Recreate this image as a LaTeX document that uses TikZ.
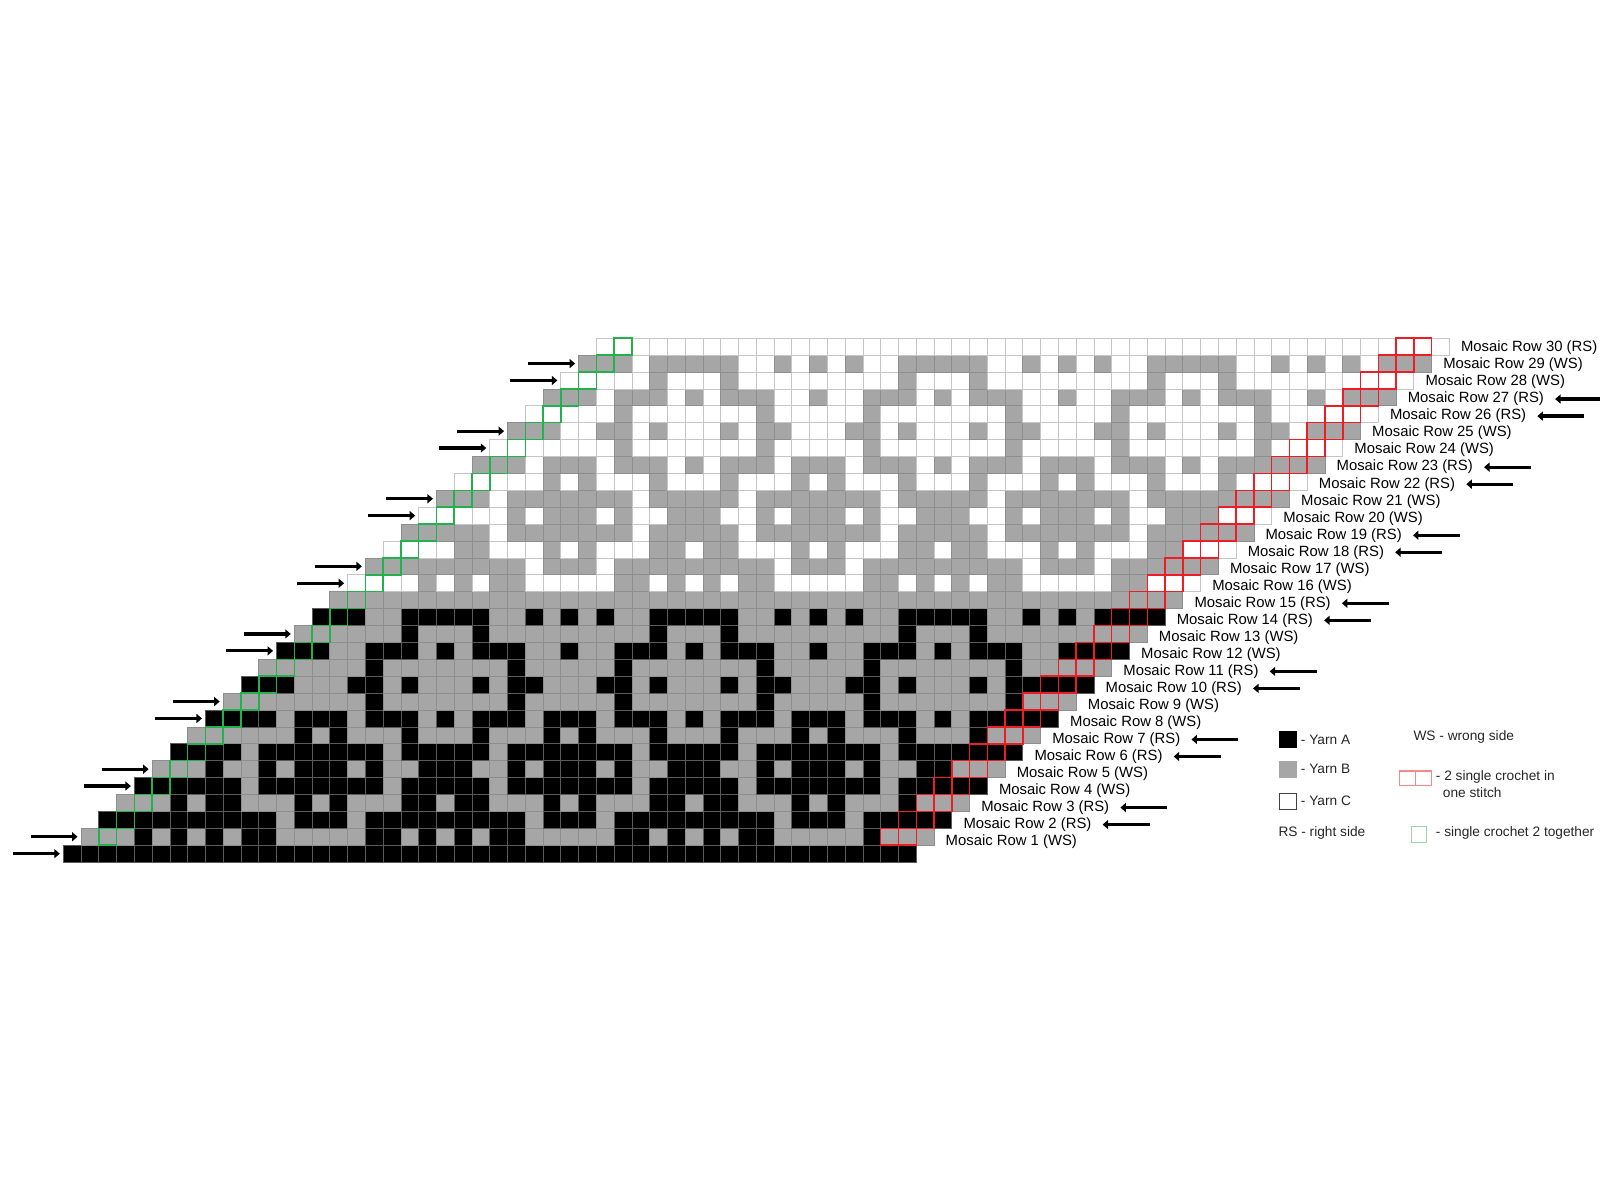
\documentclass[tikz,border=0pt]{standalone}
\usepackage{fontspec}
\setmainfont{Liberation Sans}
\usetikzlibrary{arrows.meta}
\definecolor{cf0}{HTML}{000000}
\definecolor{cf1}{HTML}{A6A6A6}
\definecolor{cf2}{HTML}{FFFFFF}
\definecolor{cl0}{HTML}{5A5A5A}
\definecolor{cl1}{HTML}{8E8E8E}
\definecolor{cl2}{HTML}{C6C6C6}
\definecolor{redline}{HTML}{EE1C24}
\definecolor{greenline}{HTML}{22B14C}
\definecolor{legred}{HTML}{F28A8A}
\definecolor{leggreen}{HTML}{9AD6A8}
\begin{document}
\begin{tikzpicture}[x=1pt,y=-1pt,
  lbl/.style={anchor=west, inner sep=0pt, font=\fontsize{14.85}{17}\selectfont},
  leg/.style={anchor=west, inner sep=0pt, text=black!85, font=\fontsize{13.7}{16}\selectfont},
  arr/.style={line width=3.2pt, -{Triangle[length=5.5pt,width=9pt]}},
  swatch/.style={minimum width=16.7pt, minimum height=16pt, inner sep=0pt, line width=0.9pt}]
\useasboundingbox (0,0) rectangle (1600,1200);
\def\cw{17.77}\def\ch{16.9}\def\gx{63.3}\def\gy{845.2}
% ---- chart cells ----
\foreach \k in {0,...,30} {
  \pgfmathtruncatemacro\m{\k<=15 ? \k : \k-15}
  \pgfmathtruncatemacro\msk{{0,88,4,98,16,203,16,34,68,8,211,8,70,32,26,0}[\m]}
  \pgfmathtruncatemacro\odd{mod(\k,2)}
  \pgfmathtruncatemacro\own{\odd==1 ? 1 : (\k<=15 ? 0 : 2)}
  \pgfmathtruncatemacro\oth{\odd==1 ? (\k<=15 ? 0 : 2) : 1}
  \pgfmathsetmacro\yt{\gy-\ch*\k}
  \foreach \i in {0,...,47} {
    \pgfmathtruncatemacro\c{\k+\i}
    \pgfmathtruncatemacro\r{mod(\c,14)}
    \pgfmathtruncatemacro\j{\r<=7 ? \r : 14-\r}
    \pgfmathtruncatemacro\b{(\i>2 && \i<45) ? mod(floor(\msk/pow(2,\j)),2) : 0}
    \pgfmathtruncatemacro\col{\b==1 ? \oth : \own}
    \pgfmathsetmacro\xl{\gx+\cw*\c}
    \path[fill=cf\col, draw=cl\col, line width=0.8pt] (\xl,\yt) rectangle ++(\cw,\ch);
  }
}
% ---- green and red outlines ----
\foreach \k in {1,...,30} {
  \pgfmathsetmacro\yt{\gy-\ch*\k}
  \pgfmathsetmacro\xg{\gx+\cw*(\k+1)}
  \pgfmathsetmacro\xr{\gx+\cw*(\k+45)}
  \draw[greenline, line width=1.5pt] (\xg,\yt) rectangle ++(\cw,\ch);
  \draw[redline, line width=1.5pt] (\xr,\yt) rectangle ++(\cw,\ch);
  \draw[redline, line width=1.5pt] (\xr+\cw,\yt) rectangle ++(\cw,\ch);
}
% ---- row labels ----
\foreach \k in {1,...,30} {
  \pgfmathtruncatemacro\side{mod(\k,4)>=2 ? 1 : 0}
  \pgfmathsetmacro\xl{\gx+\cw*(\k+48)+11.5}
  \pgfmathsetmacro\yl{348+(30-\k)*17.02}
  \ifnum\side=1 \def\sd{RS}\else\def\sd{WS}\fi
  \node[lbl] (lab\k) at (\xl,\yl) {Mosaic Row \k\ (\sd)};
}
% ---- right-side arrows (pointing left) ----
\foreach \k in {2,3,6,7,10,11,14,15,18,19,22,23,26,27} {
  \draw[arr] ([xshift=58pt]lab\k.east) -- ([xshift=11pt]lab\k.east);
}
% ---- left-side arrows (pointing right) ----
\foreach \k in {0,1,4,5,8,9,12,13,16,17,20,21,24,25,28,29} {
  \coordinate (rs\k) at (\gx+\cw*\k, \gy-\ch*\k+\ch/2);
  \draw[arr] ([xshift=-50.5pt]rs\k) -- ([xshift=-3.5pt]rs\k);
}
% ---- legend ----
\node[swatch, fill=black, draw=black] (sa) at (1287.7,739.7) {};
\node[leg] (ta) at (1300.7,739.5) {- Yarn A};
\node[swatch, fill=cf1, draw=cf1] (sb) at (1287.7,769.7) {};
\node[leg] (tb) at (1300.7,769.0) {- Yarn B};
\node[swatch, fill=white, draw=black!75] (sc) at (1287.7,801.2) {};
\node[leg] (tc) at (1300.7,800.5) {- Yarn C};
\node[leg] (trs) at (1278.3,833.3) {RS - right side};
\node[leg] (tws) at (1413.3,736.7) {WS - wrong side};
\draw[legred, line width=1.1pt] (1399.3,771) rectangle (1415.5,785.7);
\draw[legred, line width=1.1pt] (1415.5,771) rectangle (1431.7,785.7);
\node[leg] (t2sc) at (1435.7,776.5) {- 2 single crochet in};
\node[leg] (t2sc2) at (1442.7,792.5) {one stitch};
\draw[leggreen, line width=1.1pt] (1411.7,826.7) rectangle (1426.7,842.3);
\node[leg] (tsc2) at (1435.7,833.3) {- single crochet 2 together};
\end{tikzpicture}
\end{document}
